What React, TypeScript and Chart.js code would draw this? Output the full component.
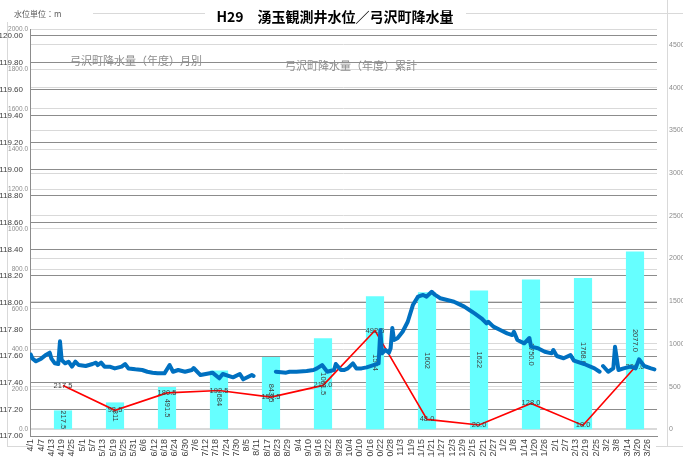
import React, { useEffect, useRef } from 'react';
import { Chart, registerables } from 'chart.js';

Chart.register(...registerables);

const TITLE = 'H29　湧玉観測井水位／弓沢町降水量';
const UNIT_TEXT = '水位単位：m';
const MONTHLY_NAME = '弓沢町降水量（年度）月別';
const CUMULATIVE_NAME = '弓沢町降水量（年度）累計';

// x-axis tick labels (every 6th day)
const dayTickLabels = [
  '4/1', '4/7', '4/13', '4/19', '4/25', '5/1', '5/7', '5/13', '5/19', '5/25', '5/31',
  '6/6', '6/12', '6/18', '6/24', '6/30', '7/6', '7/12', '7/18', '7/24', '7/30',
  '8/5', '8/11', '8/17', '8/23', '8/29', '9/4', '9/10', '9/16', '9/22', '9/28',
  '10/4', '10/10', '10/16', '10/22', '10/28', '11/3', '11/9', '11/15', '11/21', '11/27',
  '12/3', '12/9', '12/15', '12/21', '12/27', '1/2', '1/8', '1/14', '1/20', '1/26',
  '2/1', '2/7', '2/13', '2/19', '2/25', '3/2', '3/8', '3/14', '3/20', '3/26',
];

// water level: day index (0 = 4/1) and level (m)
const levelDays = [
  0, 1, 3, 6, 9, 11, 12, 14, 16, 17, 18, 20, 22, 24, 26, 28, 32, 36, 38, 39, 41, 43, 46, 49,
  53, 55, 57, 61, 65, 68, 71, 74, 78, 81, 83, 86, 90, 94, 95, 99, 106, 110, 112, 118, 122,
  124, 129, 130, 131,
  143, 149, 151, 155, 161, 165, 167, 170, 173, 177, 178, 181, 183, 185, 188, 190, 193, 196,
  200, 203, 204, 205, 207, 209, 210, 211, 212, 214, 217, 220, 223, 226, 229, 231, 234, 236,
  239, 243, 247, 249, 253, 256, 259, 263, 266, 267, 270, 274, 278, 281, 282, 284, 288, 291,
  292, 296, 300, 304, 305, 307, 311, 315, 317, 323, 329, 332, 333,
  334, 337, 340, 341, 343, 346, 350, 353, 355, 358, 362, 364,
];
const levelValues = [
  117.61, 117.58, 117.56, 117.58, 117.61, 117.625, 117.58, 117.545, 117.54, 117.71, 117.57,
  117.545, 117.557, 117.52, 117.557, 117.532, 117.525, 117.54, 117.55, 117.532, 117.55, 117.52,
  117.52, 117.507, 117.52, 117.54, 117.507, 117.5, 117.495, 117.482, 117.475, 117.47, 117.47,
  117.532, 117.482, 117.495, 117.482, 117.495, 117.51, 117.457, 117.475, 117.433, 117.465,
  117.44, 117.465, 117.425, 117.457, 117.45, null,
  117.482, 117.475, 117.482, 117.482, 117.487, 117.495, 117.507, 117.532, 117.482, 117.495,
  117.54, 117.495, 117.495, 117.507, 117.545, 117.507, 117.507, 117.515, 117.532, 117.545,
  117.795, 117.62, 117.645, 117.625, 117.658, 117.81, 117.72, 117.733, 117.782, 117.857,
  117.982, 118.045, 118.058, 118.045, 118.082, 118.058, 118.033, 118.02, 118.007, 117.995,
  117.97, 117.945, 117.92, 117.883, 117.845, 117.857, 117.82, 117.795, 117.77, 117.757,
  117.782, 117.72, 117.695, 117.735, 117.67, 117.658, 117.632, 117.62, 117.645, 117.6,
  117.583, 117.607, 117.565, 117.54, 117.507, 117.482, null,
  117.525, 117.482, 117.507, 117.67, 117.495, 117.507, 117.52, 117.507, 117.575, 117.525,
  117.507, 117.5,
];

const months = ['4月', '5月', '6月', '7月', '8月', '9月', '10月', '11月', '12月', '1月', '2月', '3月'];
const monthlyRain = [217.5, 93.5, 180.5, 192.5, 159.5, 218.0, 492.5, 48.0, 20.0, 128.0, 18.0, 309.0];
const monthlyRainLabels = ['217.5', '93.5', '180.5', '192.5', '159.5', '218.0', '492.5', '48.0', '20.0', '128.0', '18.0', '309.0'];
const cumulativeRain = [217.5, 311, 491.5, 684, 843.5, 1061.5, 1554, 1602, 1622, 1750, 1768, 2077];
const cumulativeLabels = ['217.5', '311', '491.5', '684', '843.5', '1061.5', '1554', '1602', '1622', '1750.0', '1768.0', '2077.0'];

const levelTicks = [117.0, 117.2, 117.4, 117.6, 117.8, 118.0, 118.2, 118.4, 118.6, 118.8, 119.0, 119.2, 119.4, 119.6, 119.8, 120.0];
const monthlyTicks = [0, 200, 400, 600, 800, 1000, 1200, 1400, 1600, 1800, 2000];
const cumulativeTicks = [0, 500, 1000, 1500, 2000, 2500, 3000, 3500, 4000, 4500];

const FONT = '"Liberation Sans", "Noto Sans CJK JP", sans-serif';
const JP_FONT = '"Noto Sans CJK JP", sans-serif';

const decorPlugin = {
  id: 'decor',
  beforeDraw(chart: any) {
    const ctx = chart.ctx;
    ctx.save();
    ctx.strokeStyle = '#d9d9d9';
    ctx.lineWidth = 1;
    ctx.beginPath();
    ctx.moveTo(93, 13.5); ctx.lineTo(205, 13.5);
    ctx.moveTo(466, 13.5); ctx.lineTo(683, 13.5);
    ctx.moveTo(7.5, 22); ctx.lineTo(7.5, 447);
    ctx.moveTo(7.5, 446.5); ctx.lineTo(28, 446.5);
    ctx.moveTo(667.5, 0); ctx.lineTo(667.5, 447);
    ctx.moveTo(656, 446.5); ctx.lineTo(683, 446.5);
    ctx.stroke();
    ctx.restore();
  },
  afterDatasetDraw(chart: any, args: any) {
    const ctx = chart.ctx;
    const ds = chart.data.datasets[args.index];
    const meta = args.meta;
    if (ds.label === 'cumulative') {
      ctx.save();
      ctx.fillStyle = '#404040';
      ctx.font = `7.5px ${FONT}`;
      ctx.textAlign = 'center';
      ctx.textBaseline = 'middle';
      meta.data.forEach((el: any, i: number) => {
        const cy = (el.y + el.base) / 2;
        ctx.save();
        ctx.translate(el.x, cy);
        ctx.rotate(Math.PI / 2);
        ctx.fillText(cumulativeLabels[i], 0, 0);
        ctx.restore();
      });
      ctx.restore();
    } else if (ds.label === 'monthly') {
      ctx.save();
      ctx.fillStyle = '#404040';
      ctx.font = `7.5px ${FONT}`;
      ctx.textAlign = 'center';
      ctx.textBaseline = 'middle';
      meta.data.forEach((el: any, i: number) => {
        ctx.fillText(monthlyRainLabels[i], el.x, el.y);
      });
      ctx.restore();
    }
  },
  afterDraw(chart: any) {
    const ctx = chart.ctx;
    ctx.save();
    // monthly-rain axis labels (share the left edge with the water-level axis)
    const ym = chart.scales.yMonth;
    ctx.fillStyle = '#8c8c8c';
    ctx.font = `6.5px ${FONT}`;
    ctx.textAlign = 'right';
    ctx.textBaseline = 'middle';
    monthlyTicks.forEach((v) => {
      ctx.fillText(v.toFixed(1), 28, ym.getPixelForValue(v));
    });
    ctx.fillStyle = '#595959';
    ctx.font = `8px ${JP_FONT}`;
    ctx.textAlign = 'left';
    ctx.fillText(UNIT_TEXT, 14, 14);
    ctx.fillStyle = '#000000';
    ctx.font = `bold 14px ${JP_FONT}`;
    ctx.textAlign = 'center';
    ctx.fillText(TITLE, 335, 17);
    ctx.fillStyle = '#8c8c8c';
    ctx.font = `11px ${JP_FONT}`;
    ctx.textAlign = 'left';
    ctx.fillText(MONTHLY_NAME, 70, 61);
    ctx.fillText(CUMULATIVE_NAME, 285, 66);
    ctx.restore();
  },
};

export default function App() {
  const ref = useRef<HTMLCanvasElement>(null);
  useEffect(() => {
    const levelData = levelDays.map((d, i) => ({ x: d, y: levelValues[i] }));
    const monthlyData = monthlyRain.map((v, i) => ({ x: i, y: v }));
    const cumulativeData = cumulativeRain.map((v, i) => ({ x: i, y: v }));
    const chart = new Chart(ref.current as HTMLCanvasElement, {
      type: 'bar',
      data: {
        labels: months,
        datasets: [
          {
            type: 'line',
            label: 'level',
            data: levelData as any,
            xAxisID: 'x',
            yAxisID: 'yLevel',
            borderColor: '#0070c0',
            borderWidth: 4,
            pointRadius: 0,
            spanGaps: false,
            borderJoinStyle: 'round',
            borderCapStyle: 'round',
            order: 0,
          } as any,
          {
            type: 'line',
            label: 'monthly',
            data: monthlyData as any,
            xAxisID: 'xm',
            yAxisID: 'yMonth',
            borderColor: '#ff0000',
            borderWidth: 1.6,
            pointRadius: 0,
            order: 1,
          } as any,
          {
            type: 'bar',
            label: 'cumulative',
            data: cumulativeData as any,
            xAxisID: 'xm',
            yAxisID: 'yCum',
            backgroundColor: '#66ffff',
            grouped: false,
            barThickness: 17.5,
            maxBarThickness: 17.5,
            order: 2,
          } as any,
        ],
      },
      options: {
        responsive: false,
        animation: false,
        devicePixelRatio: 1,
        layout: { padding: { top: 29, left: 0, right: 0, bottom: 0 } },
        plugins: { legend: { display: false }, tooltip: { enabled: false }, title: { display: false } },
        font: { family: FONT },
        scales: {
          x: {
            type: 'linear',
            position: 'bottom',
            offset: false,
            min: -0.5,
            max: 365.5,
            grid: { display: false, drawTicks: false, offset: false },
            border: { display: true, color: '#8c8c8c', width: 1 },
            afterBuildTicks: (s: any) => {
              s.ticks = dayTickLabels.map((_, i) => ({ value: i * 6 }));
            },
            afterFit: (s: any) => { s.height = 21; },
            ticks: {
              autoSkip: false,
              minRotation: 90,
              maxRotation: 90,
              padding: 3,
              color: '#404040',
              font: { size: 9, family: FONT },
              callback: (v: any) => dayTickLabels[Math.round(Number(v) / 6)],
            },
          },
          xm: {
            type: 'linear',
            display: false,
            offset: false,
            grid: { offset: false },
            min: -0.6346,
            max: 11.423,
          },
          yLevel: {
            type: 'linear',
            position: 'left',
            min: 117,
            max: 120.0525,
            afterBuildTicks: (s: any) => { s.ticks = levelTicks.map((v) => ({ value: v })); },
            afterFit: (s: any) => { s.width = 30; },
            grid: { color: '#8c8c8c', drawTicks: false, lineWidth: 1 },
            border: { display: true, color: '#8c8c8c', width: 1 },
            ticks: {
              padding: 7,
              color: '#404040',
              font: { size: 8, family: FONT },
              callback: (v: any) => Number(v).toFixed(2),
            },
          },
          yMonth: {
            type: 'linear',
            position: 'left',
            min: -35,
            max: 2000,
            afterBuildTicks: (s: any) => { s.ticks = monthlyTicks.map((v) => ({ value: v })); },
            afterFit: (s: any) => { s.width = 0; },
            grid: {
              color: '#d9d9d9',
              drawTicks: false,
              lineWidth: (c: any) => (c.tick && c.tick.value === 0 ? 2 : 1),
            },
            border: { display: false },
            ticks: { display: false },
          },
          yCum: {
            type: 'linear',
            position: 'right',
            min: -78.5,
            max: 4687,
            afterBuildTicks: (s: any) => { s.ticks = cumulativeTicks.map((v) => ({ value: v })); },
            afterFit: (s: any) => { s.width = 26; },
            grid: { color: '#d9d9d9', drawTicks: false, lineWidth: 1 },
            border: { display: false },
            ticks: {
              padding: 12,
              color: '#8c8c8c',
              font: { size: 7, family: FONT },
              callback: (v: any) => String(v),
            },
          },
        },
      } as any,
      plugins: [decorPlugin],
    });
    return () => chart.destroy();
  }, []);
  return (
    <div style={{ position: 'fixed', left: 0, top: 0, width: 683, height: 457, background: '#ffffff' }}>
      <canvas ref={ref} width={683} height={457} style={{ display: 'block' }} />
    </div>
  );
}
